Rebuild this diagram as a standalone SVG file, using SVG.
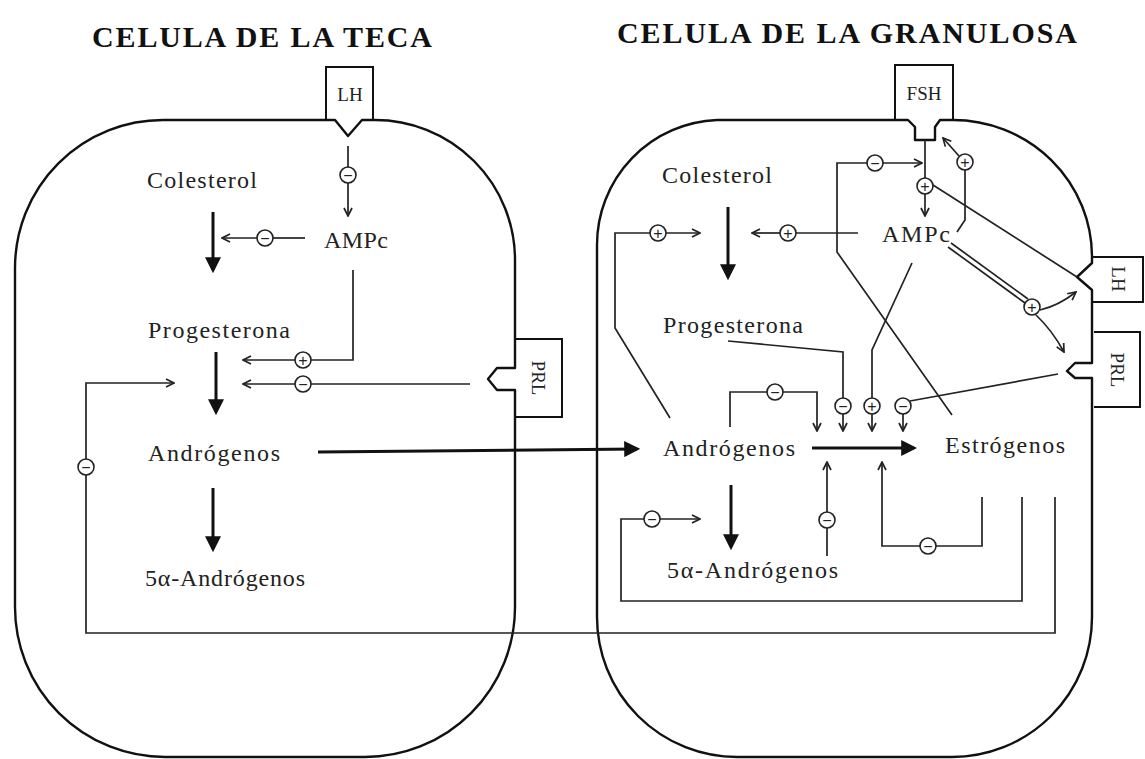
<svg xmlns="http://www.w3.org/2000/svg" width="1145" height="759" viewBox="0 0 1145 759">
<style>
.cell{fill:none;stroke:#111;stroke-width:2.4;stroke-linejoin:round}
.box{fill:none;stroke:#111;stroke-width:2}
.t{font-family:"Liberation Serif","Times New Roman",serif;font-size:24px;fill:#222}
.h{font-family:"Liberation Serif","Times New Roman",serif;font-size:30px;font-weight:bold;fill:#111}
.rt{font-family:"Liberation Serif","Times New Roman",serif;font-size:19px;fill:#222;text-anchor:middle}
.ln{fill:none;stroke:#222;stroke-width:1.7}
.lo{fill:none;stroke:#222;stroke-width:1.7;marker-end:url(#oa)}
.th{fill:none;stroke:#111;stroke-width:3;marker-end:url(#fa)}
.c{fill:#fff;stroke:#222;stroke-width:1.6}
.s{font-family:"Liberation Sans",Arial,sans-serif;font-size:16px;fill:#222;text-anchor:middle}
</style>
<defs>
<marker id="fa" viewBox="0 0 10 10" refX="8" refY="5" markerWidth="16" markerHeight="16" markerUnits="userSpaceOnUse" orient="auto"><path d="M0,0 L10,5 L0,10 z" fill="#111"/></marker>
<marker id="oa" viewBox="0 0 10 10" refX="9" refY="5" markerWidth="10" markerHeight="10" markerUnits="userSpaceOnUse" orient="auto"><path d="M1,1 L9,5 L1,9" fill="none" stroke="#222" stroke-width="1.7"/></marker>
</defs>
<rect width="1145" height="759" fill="#fff"/>

<g id="titles">
<text class="h" x="92" y="47" textLength="340" lengthAdjust="spacing">CELULA DE LA TECA</text>
<text class="h" x="617" y="43" textLength="460" lengthAdjust="spacing">CELULA DE LA GRANULOSA</text>
</g>

<g id="cell-teca">
<path class="cell" d="M163,120 L335,120 L348,136 L362,120 L375,120 A140,140 0 0 1 515,260 L515,368 L497,368 L488,379 L497,390 L515,390 L515,607 A150,150 0 0 1 365,757 L165,757 A150,150 0 0 1 15,607 L15,268 A148,148 0 0 1 163,120 Z"/>
</g>
<g id="rec-lh-teca">
<path class="box" d="M326,120 L326,67 L373,67 L373,120"/>
<text class="rt" x="350" y="101">LH</text>
</g>
<g id="rec-prl-teca">
<path class="box" d="M515,339 L562,339 L562,417 L515,417"/>
<text class="rt" transform="translate(538,378) rotate(90)" dy="6">PRL</text>
</g>

<g id="cell-granulosa">
<path class="cell" d="M717,120 L908,120 L915,127 L915,140 L935,140 L935,127 L940,120 L953,120 A139,137 0 0 1 1092,257 L1092,263 L1077,277 L1092,290 L1092,363 L1075,363 L1067,371 L1075,378 L1092,378 L1092,617 A140,140 0 0 1 952,757 L737,757 A140,140 0 0 1 597,617 L597,245 A125,125 0 0 1 717,120 Z"/>
</g>
<g id="rec-fsh">
<path class="box" d="M895,120 L895,65 L953,65 L953,120"/>
<text class="rt" x="924" y="100">FSH</text>
</g>
<g id="rec-lh-gran">
<path class="box" d="M1092,257 L1143,257 L1143,302 L1092,302"/>
<text class="rt" transform="translate(1118,279) rotate(90)" dy="6">LH</text>
</g>
<g id="rec-prl-gran">
<path class="box" d="M1094,332 L1140,332 L1140,407 L1094,407"/>
<text class="rt" transform="translate(1117,370) rotate(90)" dy="6">PRL</text>
</g>

<g id="labels-teca">
<text class="t" x="147" y="188" textLength="110" lengthAdjust="spacing">Colesterol</text>
<text class="t" x="324" y="248" textLength="64" lengthAdjust="spacing">AMPc</text>
<text class="t" x="148" y="338" textLength="142" lengthAdjust="spacing">Progesterona</text>
<text class="t" x="148" y="461" textLength="132" lengthAdjust="spacing">Andrógenos</text>
<text class="t" x="145" y="586" textLength="160" lengthAdjust="spacing">5α-Andrógenos</text>
</g>
<g id="labels-granulosa">
<text class="t" x="662" y="183" textLength="110" lengthAdjust="spacing">Colesterol</text>
<text class="t" x="882" y="242" textLength="68" lengthAdjust="spacing">AMPc</text>
<text class="t" x="663" y="333" textLength="140" lengthAdjust="spacing">Progesterona</text>
<text class="t" x="663" y="456" textLength="132" lengthAdjust="spacing">Andrógenos</text>
<text class="t" x="945" y="453" textLength="120" lengthAdjust="spacing">Estrógenos</text>
<text class="t" x="667" y="578" textLength="171" lengthAdjust="spacing">5α-Andrógenos</text>
</g>

<g id="connectors">
<line class="ln" x1="348" y1="146" x2="348" y2="167"/>
<line class="lo" x1="348" y1="183" x2="348" y2="216"/>
<line class="ln" x1="305" y1="238" x2="273" y2="238"/>
<line class="lo" x1="257" y1="238" x2="222" y2="238"/>
<line class="th" x1="213" y1="212" x2="213" y2="270"/>
<line class="th" x1="216" y1="352" x2="216" y2="412"/>
<line class="th" x1="213" y1="488" x2="213" y2="549"/>
<polyline class="ln" points="353,270 353,360 311,360"/>
<line class="lo" x1="295" y1="360" x2="243" y2="360"/>
<line class="ln" x1="470" y1="384" x2="311" y2="384"/>
<line class="lo" x1="295" y1="384" x2="243" y2="384"/>
<polyline class="ln" points="1055,497 1055,633 86,633 86,475"/>
<polyline class="lo" points="86,459 86,383 174,383"/>
<line class="th" x1="318" y1="452" x2="637" y2="449"/>
<line class="th" x1="728" y1="207" x2="728" y2="277"/>
<polyline class="ln" points="670,418 615,328 615,233 650,233"/>
<line class="lo" x1="666" y1="233" x2="700" y2="233"/>
<line class="ln" x1="858" y1="233" x2="796" y2="233"/>
<line class="lo" x1="780" y1="233" x2="752" y2="233"/>
<polyline class="ln" points="952,415 837,252 837,163 867,163"/>
<line class="lo" x1="883" y1="163" x2="922" y2="163"/>
<line class="ln" x1="925" y1="140" x2="925" y2="178"/>
<line class="lo" x1="925" y1="194" x2="925" y2="216"/>
<line class="ln" x1="933" y1="185" x2="1077" y2="277"/>
<polyline class="ln" points="957,232 965,220 965,170"/>
<line class="lo" x1="959" y1="156" x2="943" y2="138"/>
<line class="ln" x1="948" y1="247" x2="1025" y2="303"/>
<line class="ln" x1="951" y1="243" x2="1028" y2="299"/>
<path class="lo" d="M1040,310 Q1058,306 1076,292"/>
<path class="lo" d="M1036,315 Q1052,330 1064,352"/>
<polyline class="ln" points="872,398 872,350 912,263"/>
<polyline class="ln" points="728,341 843,352 843,398"/>
<line class="ln" x1="1058" y1="374" x2="910" y2="401"/>
<line class="lo" x1="843" y1="414" x2="843" y2="431"/>
<line class="lo" x1="872" y1="414" x2="872" y2="431"/>
<line class="lo" x1="903" y1="414" x2="903" y2="431"/>
<polyline class="ln" points="730,427 730,392 767,392"/>
<polyline class="lo" points="783,392 817,392 817,431"/>
<line class="th" x1="812" y1="448" x2="914" y2="448"/>
<line class="th" x1="731" y1="485" x2="731" y2="547"/>
<line class="ln" x1="827" y1="556" x2="827" y2="528"/>
<line class="lo" x1="827" y1="512" x2="827" y2="462"/>
<polyline class="ln" points="982,497 982,546 936,546"/>
<polyline class="lo" points="920,546 882,546 882,462"/>
<polyline class="ln" points="1022,497 1022,601 621,601 621,519 644,519"/>
<line class="lo" x1="660" y1="519" x2="700" y2="519"/>
</g>

<g id="modulators">
<circle class="c" cx="348" cy="175" r="8"/><text class="s" x="348" y="180.5">−</text>
<circle class="c" cx="265" cy="238" r="8"/><text class="s" x="265" y="243.5">−</text>
<circle class="c" cx="303" cy="360" r="8"/><text class="s" x="303" y="365.5">+</text>
<circle class="c" cx="303" cy="384" r="8"/><text class="s" x="303" y="389.5">−</text>
<circle class="c" cx="86" cy="467" r="8"/><text class="s" x="86" y="472.5">−</text>
<circle class="c" cx="658" cy="233" r="8"/><text class="s" x="658" y="238.5">+</text>
<circle class="c" cx="788" cy="233" r="8"/><text class="s" x="788" y="238.5">+</text>
<circle class="c" cx="875" cy="163" r="8"/><text class="s" x="875" y="168.5">−</text>
<circle class="c" cx="925" cy="186" r="8"/><text class="s" x="925" y="191.5">+</text>
<circle class="c" cx="965" cy="162" r="8"/><text class="s" x="965" y="167.5">+</text>
<circle class="c" cx="1032" cy="307" r="8"/><text class="s" x="1032" y="312.5">+</text>
<circle class="c" cx="775" cy="392" r="8"/><text class="s" x="775" y="397.5">−</text>
<circle class="c" cx="843" cy="406" r="8"/><text class="s" x="843" y="411.5">−</text>
<circle class="c" cx="872" cy="406" r="8"/><text class="s" x="872" y="411.5">+</text>
<circle class="c" cx="903" cy="406" r="8"/><text class="s" x="903" y="411.5">−</text>
<circle class="c" cx="652" cy="519" r="8"/><text class="s" x="652" y="524.5">−</text>
<circle class="c" cx="827" cy="520" r="8"/><text class="s" x="827" y="525.5">−</text>
<circle class="c" cx="928" cy="546" r="8"/><text class="s" x="928" y="551.5">−</text>
</g>
</svg>
